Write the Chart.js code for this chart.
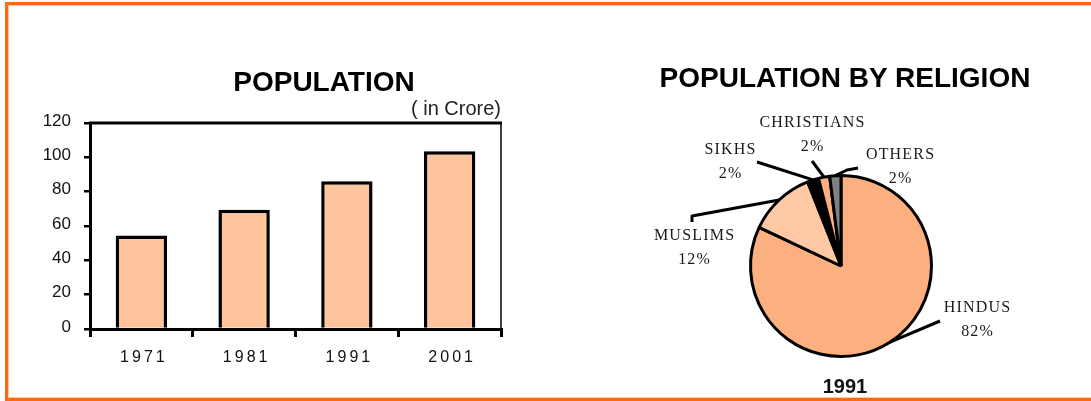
<!DOCTYPE html>
<html>
<head>
<meta charset="utf-8">
<script src="https://cdn.jsdelivr.net/npm/chart.js@4.4.1/dist/chart.umd.min.js"></script>
<style>
  html, body { margin:0; padding:0; background:#fff; width:1091px; height:401px; overflow:hidden; }
  #frame { position:absolute; left:5px; top:2px; width:1200px; height:393px;
           border-left:3px solid #FF6A10; border-top:3px solid #FF6A10; border-bottom:3px solid #FF6A10;
           box-shadow: inset 1px 1px 0 #FFC9A3, inset 0 -1px 0 #FFC9A3; }
  .t { position:absolute; white-space:nowrap; font-family:"Liberation Sans", Arial, sans-serif; color:#000; }
  #barTitle { left:324px; top:68px; font-size:28px; line-height:28px; font-weight:bold; transform:translateX(-50%); }
  #barUnit { right:590px; top:98px; font-size:20px; line-height:20px; color:#222; }
  #pieTitle { left:845px; top:64px; font-size:28px; line-height:28px; font-weight:bold; transform:translateX(-50%); }
  #pieYear { left:845px; top:376px; font-size:20px; line-height:20px; font-weight:bold; transform:translateX(-50%); color:#111; }
  #barCanvas { position:absolute; left:0; top:0; }
  #pieCanvas { position:absolute; left:560px; top:0; }
</style>
</head>
<body>
<div id="frame"></div>
<canvas id="barCanvas" width="540" height="401"></canvas>
<canvas id="pieCanvas" width="531" height="401"></canvas>
<div class="t" id="barTitle">POPULATION</div>
<div class="t" id="barUnit">( in Crore)</div>
<div class="t" id="pieTitle">POPULATION BY RELIGION</div>
<div class="t" id="pieYear">1991</div>
<script>
// ---- data ----
const years = ['1971', '1981', '1991', '2001'];
const population = [54.5, 69.5, 86, 103.5];
const yTicks = [0, 20, 40, 60, 80, 100, 120];

const religions = ['HINDUS', 'MUSLIMS', 'SIKHS', 'CHRISTIANS', 'OTHERS'];
const religionShare = [82, 12, 2, 2, 2];

// ---- styling / layout (not data) ----
const religionColors = ['#FDB07F', '#FFC9A6', '#000000', '#FDB07F', '#808080'];
const labelOffsets = [[136, 42], [-147, -30], [-111, -116], [-29, -143], [59, -111]];
const leaderPaths = [
  [[99, 55]],
  [[-149, -50], [-149, -44]],
  [[-84, -104]],
  [[-29, -105]],
  [[6, -96], [17, -98]]
];

// ---- bar chart ----
const spacingPlugin = {
  id: 'xSpacing',
  afterDatasetsDraw(chart) { chart.ctx.letterSpacing = '3px'; },
  afterDraw(chart) { chart.ctx.letterSpacing = '0px'; }
};
const boxPlugin = {
  id: 'box',
  afterDraw(chart) {
    const {ctx, chartArea: a} = chart;
    ctx.save();
    ctx.strokeStyle = '#000';
    ctx.lineWidth = 3;
    ctx.beginPath(); ctx.moveTo(a.left - 1, a.top); ctx.lineTo(a.right + 1, a.top); ctx.stroke();
    ctx.lineWidth = 1.5;
    ctx.beginPath(); ctx.moveTo(a.right, a.top); ctx.lineTo(a.right, a.bottom); ctx.stroke();
    ctx.restore();
  }
};

new Chart(document.getElementById('barCanvas'), {
  type: 'bar',
  data: {
    labels: years,
    datasets: [{
      data: population,
      backgroundColor: '#FFC49B',
      borderColor: '#000',
      borderWidth: 3.5,
      barPercentage: 0.5,
      categoryPercentage: 1.0
    }]
  },
  options: {
    responsive: false,
    animation: false,
    devicePixelRatio: 1,
    layout: { padding: { left: 30, right: 39, top: 123, bottom: 27 } },
    plugins: { legend: { display: false }, tooltip: { enabled: false }, title: { display: false } },
    scales: {
      x: {
        offset: true,
        grid: { display: true, drawOnChartArea: false, drawTicks: true, tickLength: 8, color: '#000', lineWidth: 3, offset: true, z: 1 },
        border: { display: true, color: '#000', width: 3, z: 1 },
        ticks: { z: 1, color: '#111', font: { family: 'Liberation Sans', size: 16 }, padding: 11, labelOffset: 2.5 },
        afterFit(s) { s.height = 45; }
      },
      y: {
        min: 0, max: 120,
        afterBuildTicks(s) { s.ticks = yTicks.map(v => ({ value: v })); },
        ticks: { color: '#111', font: { family: 'Liberation Sans', size: 17 }, padding: 13, labelOffset: -2 },
        grid: { display: true, drawOnChartArea: false, drawTicks: true, tickLength: 6, color: '#000', lineWidth: 2.5 },
        border: { display: true, color: '#000', width: 3 },
        afterFit(s) { s.width = 60; }
      }
    }
  },
  plugins: [spacingPlugin, boxPlugin]
});

// ---- pie chart ----
const pieLabelPlugin = {
  id: 'pieLabels',
  afterDraw(chart) {
    const ctx = chart.ctx;
    const arcs = chart.getDatasetMeta(0).data;
    ctx.save();
    arcs.forEach((arc, i) => {
      const p = arc.getProps(['x', 'y', 'startAngle', 'endAngle', 'outerRadius']);
      const mid = (p.startAngle + p.endAngle) / 2;
      const ex = p.x + Math.cos(mid) * p.outerRadius;
      const ey = p.y + Math.sin(mid) * p.outerRadius;
      ctx.strokeStyle = '#000';
      ctx.lineWidth = 3;
      ctx.lineJoin = 'round';
      ctx.beginPath();
      ctx.moveTo(ex, ey);
      leaderPaths[i].forEach(pt => ctx.lineTo(p.x + pt[0], p.y + pt[1]));
      ctx.stroke();

      const lx = p.x + labelOffsets[i][0];
      const ly = p.y + labelOffsets[i][1];
      ctx.fillStyle = '#1a1a1a';
      ctx.font = '16px "Liberation Serif", "Times New Roman", serif';
      ctx.letterSpacing = '1.2px';
      ctx.textAlign = 'center';
      ctx.textBaseline = 'middle';
      ctx.fillText(religions[i], lx + 0.6, ly);
      ctx.fillText(religionShare[i] + '%', lx + 0.6, ly + 24);
    });
    ctx.restore();
  }
};

new Chart(document.getElementById('pieCanvas'), {
  type: 'pie',
  data: {
    labels: religions,
    datasets: [{
      data: religionShare,
      backgroundColor: religionColors,
      borderColor: '#000',
      borderWidth: 3
    }]
  },
  options: {
    responsive: false,
    animation: false,
    devicePixelRatio: 1,
    layout: { padding: { left: 189, right: 158, top: 174, bottom: 43 } },
    plugins: { legend: { display: false }, tooltip: { enabled: false } }
  },
  plugins: [pieLabelPlugin]
});
</script>
</body>
</html>
